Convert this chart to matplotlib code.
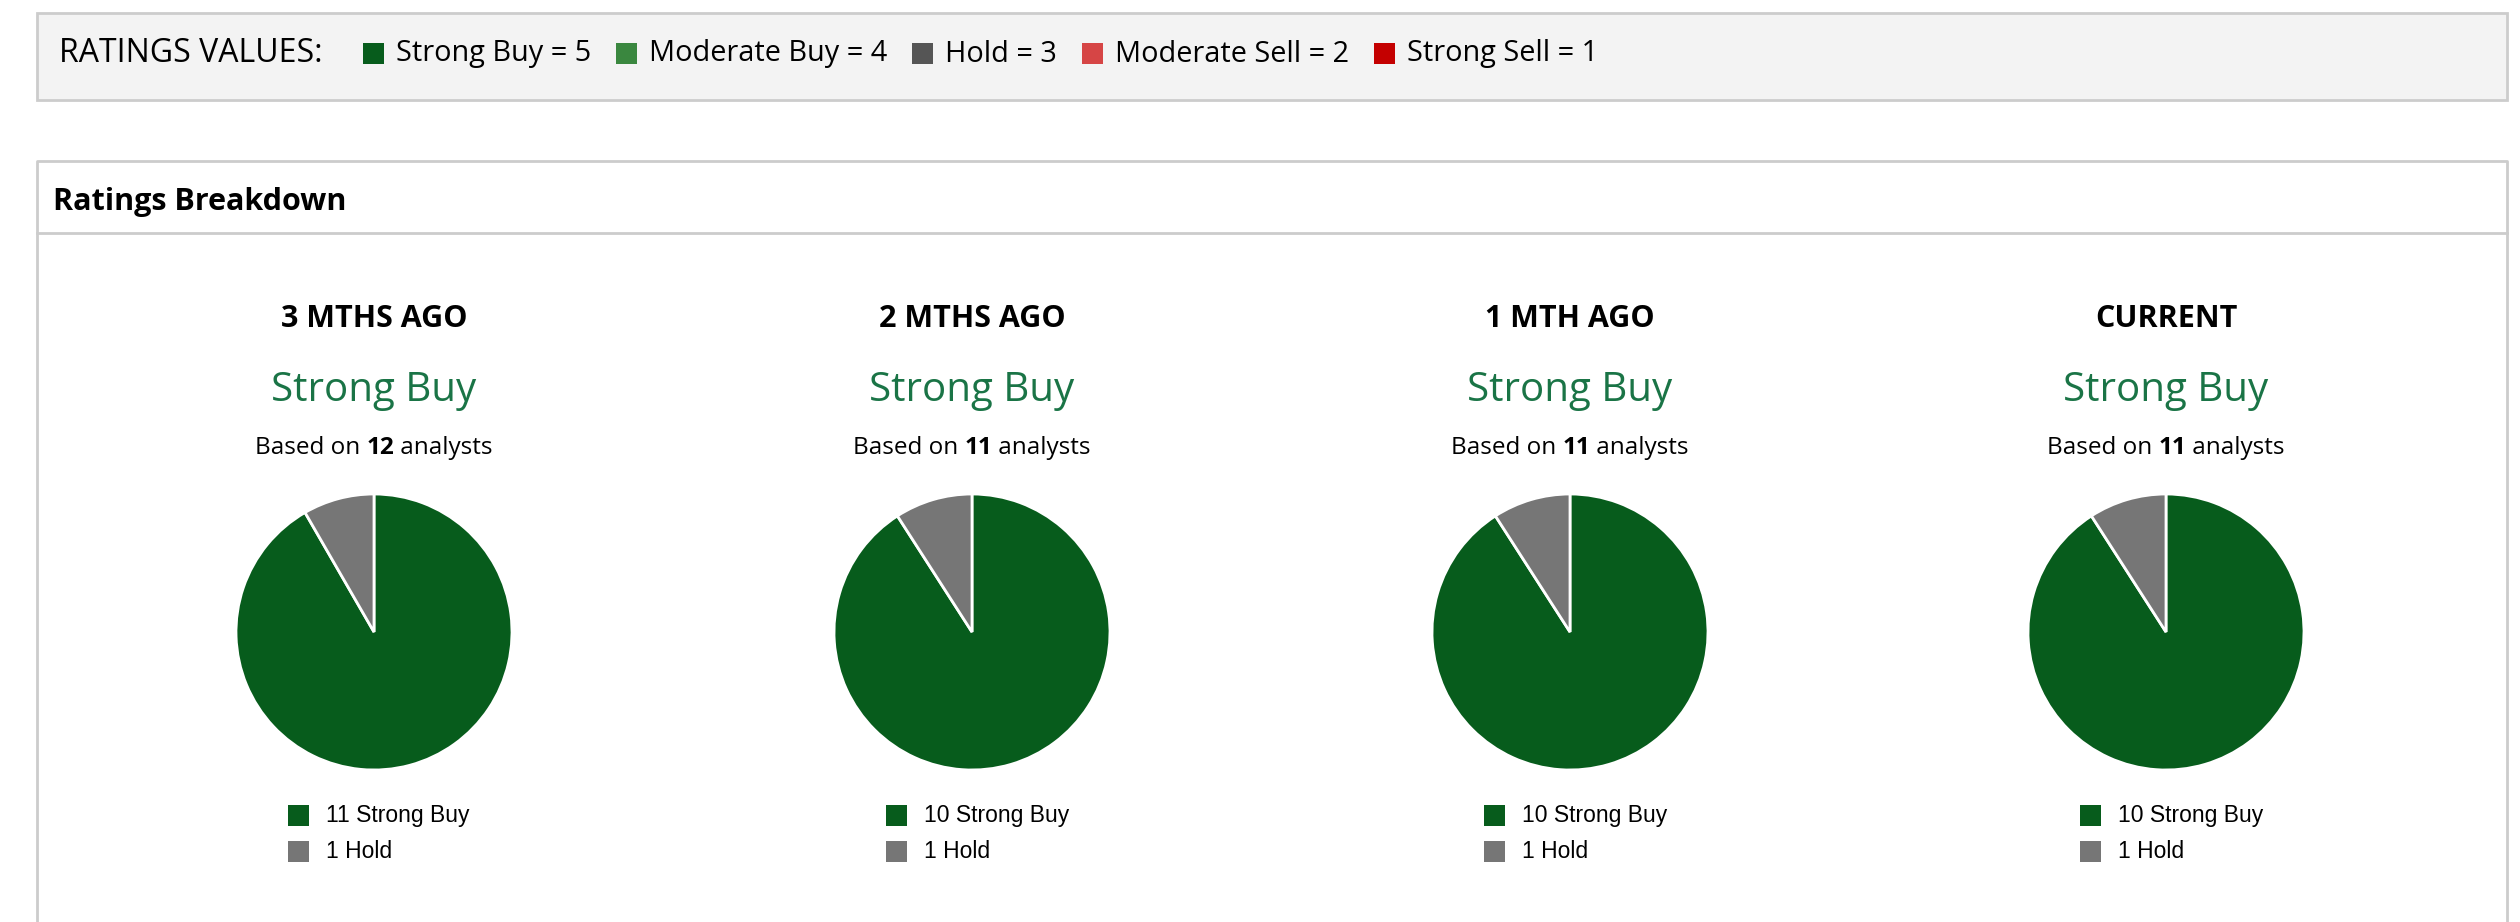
import matplotlib.pyplot as plt
from matplotlib.patches import Rectangle

### Data
periods = ["3 MTHS AGO", "2 MTHS AGO", "1 MTH AGO", "CURRENT"]
consensus = ["Strong Buy", "Strong Buy", "Strong Buy", "Strong Buy"]
analysts = [12, 11, 11, 11]
strong_buy = [11, 10, 10, 10]
hold = [1, 1, 1, 1]

rating_names = ["Strong Buy", "Moderate Buy", "Hold", "Moderate Sell", "Strong Sell"]
rating_values = [5, 4, 3, 2, 1]
rating_colors = ["#075c1c", "#3a873f", "#555555", "#d64545", "#c40000"]

SB_COLOR = "#075c1c"
HOLD_COLOR = "#767676"
GREEN_TEXT = "#1a7446"
BORDER = "#cccccc"

W, H = 2520, 922
fig = plt.figure(figsize=(W / 100, H / 100), dpi=100)
ax = fig.add_axes([0, 0, 1, 1])
ax.set_xlim(0, W)
ax.set_ylim(H, 0)
ax.axis("off")

FONT = "Open Sans"
renderer = fig.canvas.get_renderer()


def text_width(t):
    bb = t.get_window_extent(renderer=renderer)
    return bb.width


## Top box with rating values
ax.add_patch(Rectangle((37, 13), 2470, 87, facecolor="#f3f3f3", edgecolor=BORDER, lw=2))
t = ax.text(59, 54, "RATINGS VALUES:", fontsize=23, family=FONT, va="center", ha="left")
x = 59 + text_width(t) + 40
for name, val, col in zip(rating_names, rating_values, rating_colors):
    ax.add_patch(Rectangle((x, 43), 21, 21, facecolor=col, edgecolor="none"))
    t = ax.text(x + 33, 54, f"{name} = {val}", fontsize=20.8, family=FONT, va="center", ha="left")
    x = x + 33 + text_width(t) + 25

## Ratings breakdown box
ax.plot([37, 37, 2507, 2507], [H + 5, 161, 161, H + 5], color=BORDER, lw=2)
ax.plot([37, 2507], [233, 233], color=BORDER, lw=2)
ax.text(53, 202, "Ratings Breakdown", fontsize=22, family=FONT, fontweight="bold", va="center", ha="left")

centers = [374, 972, 1570, 2166]
pie_y = 632
R = 138
for i, cx in enumerate(centers):
    ax.text(cx, 319, periods[i], fontsize=22, family=FONT, fontweight="bold", va="center", ha="center")
    ax.text(cx, 391, consensus[i], fontsize=29, family=FONT, color=GREEN_TEXT, va="center", ha="center")

    # "Based on N analysts" with bold number
    parts = [("Based on ", "normal"), (str(analysts[i]), "bold"), (" analysts", "normal")]
    tmp = [ax.text(0, 0, p, fontsize=17.5, family=FONT, fontweight=w) for p, w in parts]
    widths = [text_width(tt) for tt in tmp]
    for tt in tmp:
        tt.remove()
    xs = cx - sum(widths) / 2
    for (p, w), wd in zip(parts, widths):
        ax.text(xs, 448, p, fontsize=17.5, family=FONT, fontweight=w, va="center", ha="left")
        xs += wd

    # pie
    pad = 150
    pax = fig.add_axes([(cx - pad) / W, 1 - (pie_y + pad) / H, 2 * pad / W, 2 * pad / H])
    pax.pie([strong_buy[i], hold[i]], colors=[SB_COLOR, HOLD_COLOR], startangle=90,
            counterclock=False, radius=R,
            wedgeprops={"edgecolor": "white", "linewidth": 2})
    pax.set_xlim(-pad, pad)
    pax.set_ylim(-pad, pad)
    pax.set_aspect("equal")
    pax.axis("off")

    # legend
    for j, (label, col) in enumerate([(f"{strong_buy[i]} Strong Buy", SB_COLOR), (f"{hold[i]} Hold", HOLD_COLOR)]):
        yy = 815 + j * 36
        ax.add_patch(Rectangle((cx - 86, yy - 10), 21, 21, facecolor=col, edgecolor="none"))
        ax.text(cx - 48, yy, label, fontsize=16.5, family="Liberation Sans", va="center", ha="left")

fig.savefig("out.png", dpi=100)
